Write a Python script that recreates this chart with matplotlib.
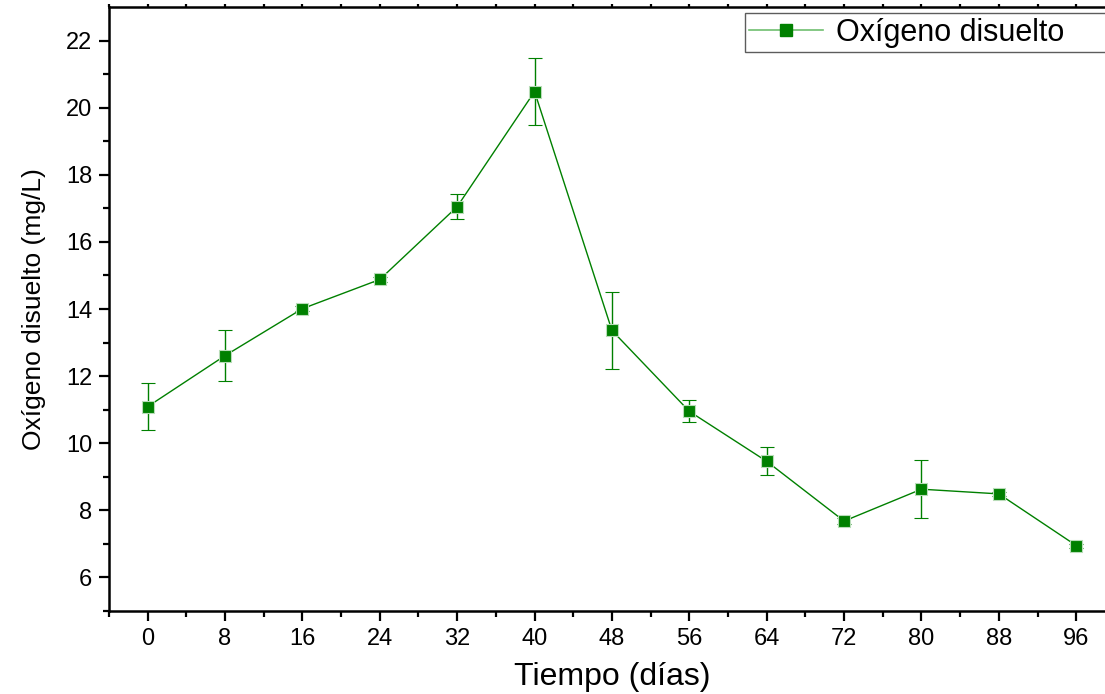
import numpy as np
import matplotlib.pyplot as plt
from matplotlib.lines import Line2D

plt.rcParams['font.family'] = ['Liberation Sans', 'DejaVu Sans']

dias = [0, 8, 16, 24, 32, 40, 48, 56, 64, 72, 80, 88, 96]
oxigeno = [11.09, 12.61, 14.01, 14.88, 17.05, 20.48, 13.36, 10.95, 9.46, 7.68, 8.63, 8.49, 6.95]
error = [0.70, 0.75, 0.08, 0.07, 0.37, 1.01, 1.16, 0.33, 0.42, 0.10, 0.87, 0.06, 0.06]

verde = '#008000'

fig = plt.figure(figsize=(11.05, 6.94), dpi=100)
ax = fig.add_axes([0.0986, 0.1196, 0.9104, 0.8703])

ax.errorbar(dias, oxigeno, yerr=error, color=verde, lw=1.0, marker='s', ms=9,
            mfc=verde, mec='#b8dcb8', mew=0.8, ecolor=verde, elinewidth=1.0,
            capsize=4.8, capthick=1.0, zorder=3)

ax.set_xlim(-4, 100)
ax.set_ylim(5, 23)
ax.set_xticks(np.arange(0, 97, 8))
ax.set_xticks(np.arange(-4, 100, 4), minor=True)
ax.set_yticks(np.arange(6, 23, 2))
ax.set_yticks(np.arange(5, 23, 1), minor=True)

for s in ['left', 'bottom', 'top']:
    ax.spines[s].set_linewidth(1.8)
ax.spines['right'].set_visible(False)

ax.tick_params(axis='both', which='major', direction='out', length=7, width=1.6,
               labelsize=17, pad=5)
ax.tick_params(axis='both', which='minor', direction='out', length=4, width=1.6)
ax.tick_params(axis='x', which='both', top=True, labeltop=False)
# keep the top ticks tiny
for t in ax.xaxis.get_ticklines(minor=False)[1::2]:
    t.set_markersize(2)
for t in ax.xaxis.get_ticklines(minor=True)[1::2]:
    t.set_markersize(2)

ax.set_xlabel('Tiempo (días)', fontsize=23, labelpad=9)
ax.set_ylabel('Oxígeno disuelto (mg/L)', fontsize=19, labelpad=14)

proxy = Line2D([], [], color='#6fbf6f', lw=1.2, marker='s', ms=8,
               mfc=verde, mec=verde)
leg = ax.legend([proxy], ['Oxígeno disuelto'], loc='upper left',
                bbox_to_anchor=(0.632, 0.0, 0.40, 0.99), mode='expand',
                fontsize=22, frameon=True, fancybox=False, edgecolor='#333333',
                handlelength=2.4, borderpad=0.15, borderaxespad=0,
                handletextpad=0.45)
leg.get_frame().set_linewidth(1.0)

fig.savefig('out.png', dpi=100)
